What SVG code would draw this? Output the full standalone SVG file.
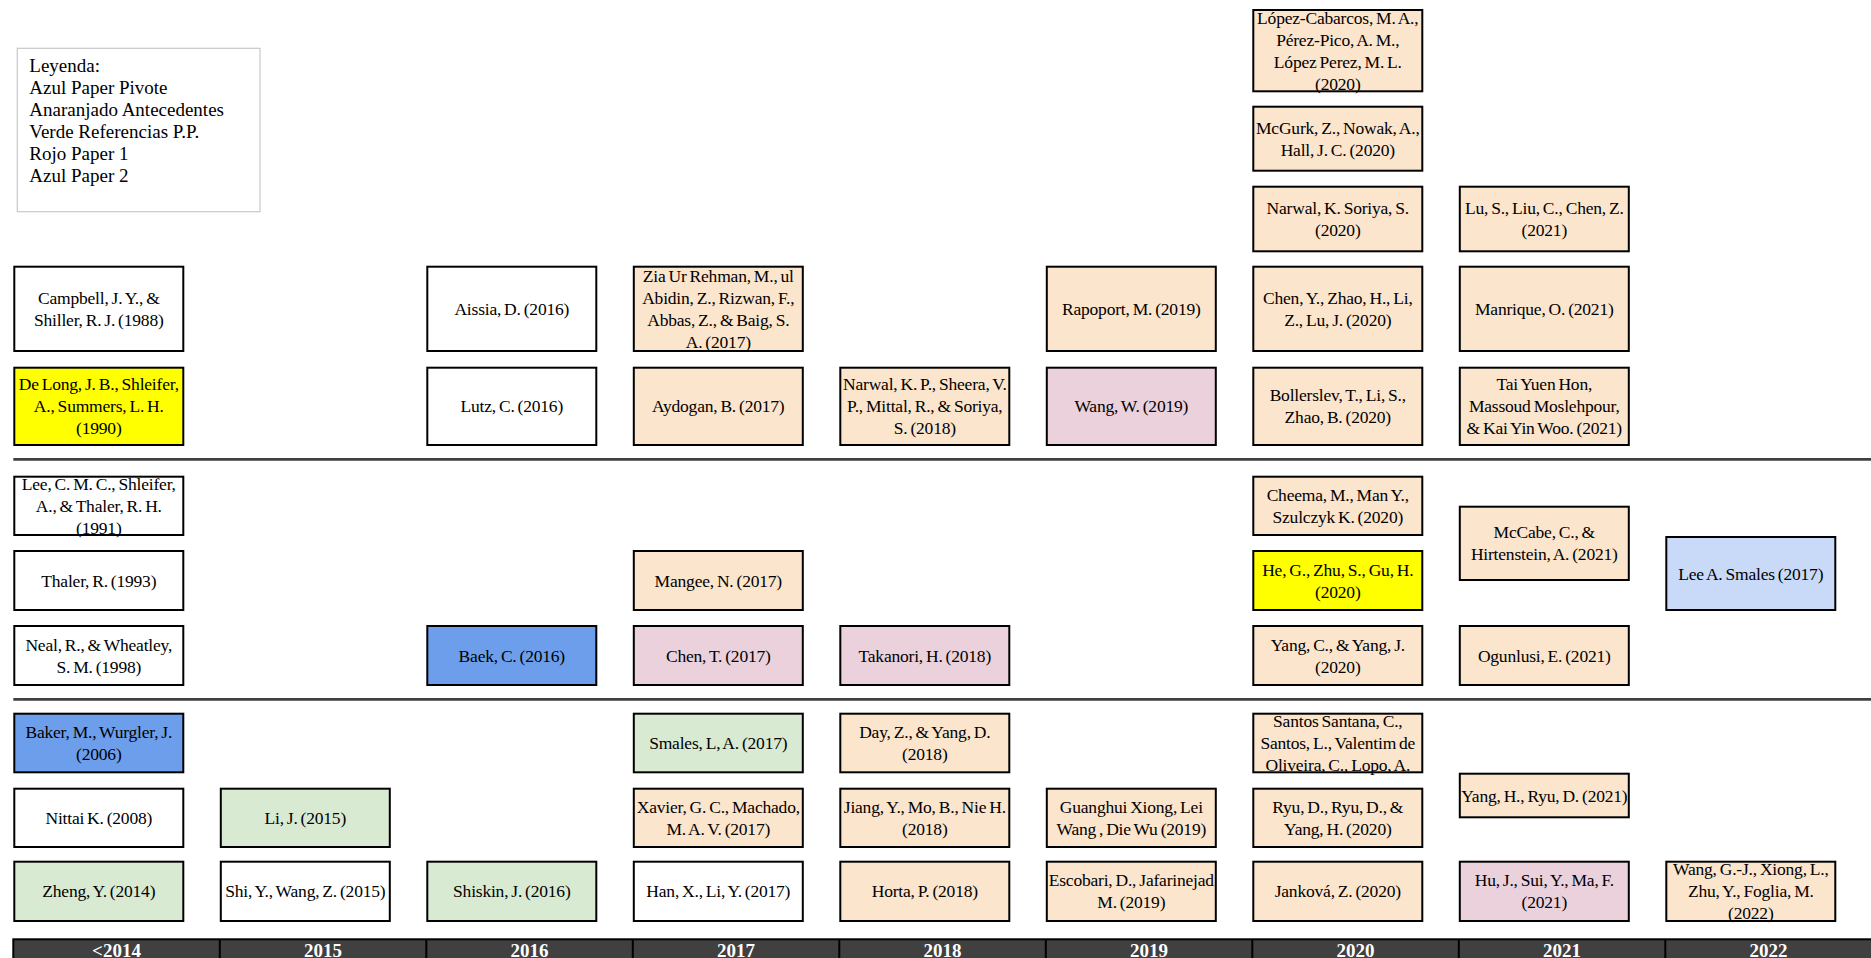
<svg xmlns="http://www.w3.org/2000/svg" width="1871" height="958" viewBox="0 0 1871 958">
<style>
.bx{stroke:#000;stroke-width:2}
.w{fill:#ffffff}.o{fill:#FCE5CD}.p{fill:#EAD1DC}.g{fill:#D9EAD3}.y{fill:#FFFF00}.b{fill:#6D9EEB}.lb{fill:#C9DAF8}
.t{font-family:"Liberation Serif","Times New Roman",serif;font-size:17.5px;text-anchor:middle;fill:#000;word-spacing:-1.2px;letter-spacing:-0.2px}
.lg{font-family:"Liberation Serif","Times New Roman",serif;font-size:19px;fill:#000}
.yr{font-family:"Liberation Serif","Times New Roman",serif;font-size:19px;font-weight:bold;text-anchor:middle;fill:#fff}
.sep{stroke:#404040;stroke-width:2.6}
</style>
<rect width="1871" height="958" fill="#fff"/>
<g id="legend">
<rect x="17.3" y="48.3" width="242.7" height="163.4" fill="#fff" stroke="#c8c8c8" stroke-width="1.2"/>
<text class="lg"><tspan x="29.3" y="71.7">Leyenda:</tspan><tspan x="29.3" y="93.7">Azul Paper Pivote</tspan><tspan x="29.3" y="115.7">Anaranjado Antecedentes</tspan><tspan x="29.3" y="137.7">Verde Referencias P.P.</tspan><tspan x="29.3" y="159.7">Rojo Paper 1</tspan><tspan x="29.3" y="181.7">Azul Paper 2</tspan></text>
</g>
<g id="separators">
<line class="sep" x1="13.3" y1="459.4" x2="1871" y2="459.4"/>
<line class="sep" x1="13.3" y1="699.4" x2="1871" y2="699.4"/>
</g>
<g id="connectors"/>
<!-- <2014 -->
<g id="n-campbell"><rect class="bx w" x="14.3" y="266.7" width="169" height="84.3"/><text class="t"><tspan x="98.8" y="303.9">Campbell, J. Y., &amp;</tspan><tspan x="98.8" y="325.9">Shiller, R. J. (1988)</tspan></text></g>
<g id="n-delong"><rect class="bx y" x="14.3" y="367.7" width="169" height="77.3"/><text class="t"><tspan x="98.8" y="390.4">De Long, J. B., Shleifer,</tspan><tspan x="98.8" y="412.4">A., Summers, L. H.</tspan><tspan x="98.8" y="434.4">(1990)</tspan></text></g>
<g id="n-lee"><rect class="bx w" x="14.3" y="476.7" width="169" height="58.3"/><text class="t"><tspan x="98.8" y="489.9">Lee, C. M. C., Shleifer,</tspan><tspan x="98.8" y="511.9">A., &amp; Thaler, R. H.</tspan><tspan x="98.8" y="533.9">(1991)</tspan></text></g>
<g id="n-thaler"><rect class="bx w" x="14.3" y="551" width="169" height="59"/><text class="t"><tspan x="98.8" y="586.5">Thaler, R. (1993)</tspan></text></g>
<g id="n-neal"><rect class="bx w" x="14.3" y="626" width="169" height="59"/><text class="t"><tspan x="98.8" y="650.5">Neal, R., &amp; Wheatley,</tspan><tspan x="98.8" y="672.5">S. M. (1998)</tspan></text></g>
<g id="n-baker"><rect class="bx b" x="14.3" y="713.7" width="169" height="58.6"/><text class="t"><tspan x="98.8" y="738">Baker, M., Wurgler, J.</tspan><tspan x="98.8" y="760">(2006)</tspan></text></g>
<g id="n-nittai"><rect class="bx w" x="14.3" y="788.7" width="169" height="58.3"/><text class="t"><tspan x="98.8" y="823.9">Nittai K. (2008)</tspan></text></g>
<g id="n-zheng"><rect class="bx g" x="14.3" y="861.7" width="169" height="59.3"/><text class="t"><tspan x="98.8" y="897.4">Zheng, Y. (2014)</tspan></text></g>
<!-- 2015 -->
<g id="n-lij"><rect class="bx g" x="220.8" y="788.7" width="169" height="58.3"/><text class="t"><tspan x="305.3" y="823.9">Li, J. (2015)</tspan></text></g>
<g id="n-shi"><rect class="bx w" x="220.8" y="861.7" width="169" height="59.3"/><text class="t"><tspan x="305.3" y="897.4">Shi, Y., Wang, Z. (2015)</tspan></text></g>
<!-- 2016 -->
<g id="n-aissia"><rect class="bx w" x="427.3" y="266.7" width="169" height="84.3"/><text class="t"><tspan x="511.8" y="314.9">Aissia, D. (2016)</tspan></text></g>
<g id="n-lutz"><rect class="bx w" x="427.3" y="367.7" width="169" height="77.3"/><text class="t"><tspan x="511.8" y="412.4">Lutz, C. (2016)</tspan></text></g>
<g id="n-baek"><rect class="bx b" x="427.3" y="626" width="169" height="59"/><text class="t"><tspan x="511.8" y="661.5">Baek, C. (2016)</tspan></text></g>
<g id="n-shiskin"><rect class="bx g" x="427.3" y="861.7" width="169" height="59.3"/><text class="t"><tspan x="511.8" y="897.4">Shiskin, J. (2016)</tspan></text></g>
<!-- 2017 -->
<g id="n-zia"><rect class="bx o" x="633.8" y="266.7" width="169" height="84.3"/><text class="t"><tspan x="718.3" y="281.9">Zia Ur Rehman, M., ul</tspan><tspan x="718.3" y="303.9">Abidin, Z., Rizwan, F.,</tspan><tspan x="718.3" y="325.9">Abbas, Z., &amp; Baig, S.</tspan><tspan x="718.3" y="347.9">A. (2017)</tspan></text></g>
<g id="n-aydogan"><rect class="bx o" x="633.8" y="367.7" width="169" height="77.3"/><text class="t"><tspan x="718.3" y="412.4">Aydogan, B. (2017)</tspan></text></g>
<g id="n-mangee"><rect class="bx o" x="633.8" y="551" width="169" height="59"/><text class="t"><tspan x="718.3" y="586.5">Mangee, N. (2017)</tspan></text></g>
<g id="n-chent"><rect class="bx p" x="633.8" y="626" width="169" height="59"/><text class="t"><tspan x="718.3" y="661.5">Chen, T. (2017)</tspan></text></g>
<g id="n-smales"><rect class="bx g" x="633.8" y="713.7" width="169" height="58.6"/><text class="t"><tspan x="718.3" y="749">Smales, L, A. (2017)</tspan></text></g>
<g id="n-xavier"><rect class="bx o" x="633.8" y="788.7" width="169" height="58.3"/><text class="t"><tspan x="718.3" y="812.9">Xavier, G. C., Machado,</tspan><tspan x="718.3" y="834.9">M. A. V. (2017)</tspan></text></g>
<g id="n-han"><rect class="bx w" x="633.8" y="861.7" width="169" height="59.3"/><text class="t"><tspan x="718.3" y="897.4">Han, X., Li, Y. (2017)</tspan></text></g>
<!-- 2018 -->
<g id="n-narwal2018"><rect class="bx o" x="840.3" y="367.7" width="169" height="77.3"/><text class="t"><tspan x="924.8" y="390.4">Narwal, K. P., Sheera, V.</tspan><tspan x="924.8" y="412.4">P., Mittal, R., &amp; Soriya,</tspan><tspan x="924.8" y="434.4">S. (2018)</tspan></text></g>
<g id="n-takanori"><rect class="bx p" x="840.3" y="626" width="169" height="59"/><text class="t"><tspan x="924.8" y="661.5">Takanori, H. (2018)</tspan></text></g>
<g id="n-day"><rect class="bx o" x="840.3" y="713.7" width="169" height="58.6"/><text class="t"><tspan x="924.8" y="738">Day, Z., &amp; Yang, D.</tspan><tspan x="924.8" y="760">(2018)</tspan></text></g>
<g id="n-jiang"><rect class="bx o" x="840.3" y="788.7" width="169" height="58.3"/><text class="t"><tspan x="924.8" y="812.9">Jiang, Y., Mo, B., Nie H.</tspan><tspan x="924.8" y="834.9">(2018)</tspan></text></g>
<g id="n-horta"><rect class="bx o" x="840.3" y="861.7" width="169" height="59.3"/><text class="t"><tspan x="924.8" y="897.4">Horta, P. (2018)</tspan></text></g>
<!-- 2019 -->
<g id="n-rapoport"><rect class="bx o" x="1046.8" y="266.7" width="169" height="84.3"/><text class="t"><tspan x="1131.3" y="314.9">Rapoport, M. (2019)</tspan></text></g>
<g id="n-wangw"><rect class="bx p" x="1046.8" y="367.7" width="169" height="77.3"/><text class="t"><tspan x="1131.3" y="412.4">Wang, W. (2019)</tspan></text></g>
<g id="n-guanghui"><rect class="bx o" x="1046.8" y="788.7" width="169" height="58.3"/><text class="t"><tspan x="1131.3" y="812.9">Guanghui Xiong, Lei</tspan><tspan x="1131.3" y="834.9">Wang , Die Wu (2019)</tspan></text></g>
<g id="n-escobari"><rect class="bx o" x="1046.8" y="861.7" width="169" height="59.3"/><text class="t"><tspan x="1131.3" y="886.4">Escobari, D., Jafarinejad</tspan><tspan x="1131.3" y="908.4">M. (2019)</tspan></text></g>
<!-- 2020 -->
<g id="n-lopez"><rect class="bx o" x="1253.3" y="10" width="169" height="81.3"/><text class="t"><tspan x="1337.8" y="23.7">López-Cabarcos, M. A.,</tspan><tspan x="1337.8" y="45.7">Pérez-Pico, A. M.,</tspan><tspan x="1337.8" y="67.7">López Perez, M. L.</tspan><tspan x="1337.8" y="89.7">(2020)</tspan></text></g>
<g id="n-mcgurk"><rect class="bx o" x="1253.3" y="106.7" width="169" height="64"/><text class="t"><tspan x="1337.8" y="133.7">McGurk, Z., Nowak, A.,</tspan><tspan x="1337.8" y="155.7">Hall, J. C. (2020)</tspan></text></g>
<g id="n-narwal2020"><rect class="bx o" x="1253.3" y="186.7" width="169" height="64.6"/><text class="t"><tspan x="1337.8" y="214">Narwal, K. Soriya, S.</tspan><tspan x="1337.8" y="236">(2020)</tspan></text></g>
<g id="n-cheny"><rect class="bx o" x="1253.3" y="266.7" width="169" height="84.3"/><text class="t"><tspan x="1337.8" y="303.9">Chen, Y., Zhao, H., Li,</tspan><tspan x="1337.8" y="325.9">Z., Lu, J. (2020)</tspan></text></g>
<g id="n-bollerslev"><rect class="bx o" x="1253.3" y="367.7" width="169" height="77.3"/><text class="t"><tspan x="1337.8" y="401.4">Bollerslev, T., Li, S.,</tspan><tspan x="1337.8" y="423.4">Zhao, B. (2020)</tspan></text></g>
<g id="n-cheema"><rect class="bx o" x="1253.3" y="476.7" width="169" height="58.3"/><text class="t"><tspan x="1337.8" y="500.9">Cheema, M., Man Y.,</tspan><tspan x="1337.8" y="522.9">Szulczyk K. (2020)</tspan></text></g>
<g id="n-he"><rect class="bx y" x="1253.3" y="551" width="169" height="59"/><text class="t"><tspan x="1337.8" y="575.5">He, G., Zhu, S., Gu, H.</tspan><tspan x="1337.8" y="597.5">(2020)</tspan></text></g>
<g id="n-yangc"><rect class="bx o" x="1253.3" y="626" width="169" height="59"/><text class="t"><tspan x="1337.8" y="650.5">Yang, C., &amp; Yang, J.</tspan><tspan x="1337.8" y="672.5">(2020)</tspan></text></g>
<g id="n-santos"><rect class="bx o" x="1253.3" y="713.7" width="169" height="58.6"/><text class="t"><tspan x="1337.8" y="727">Santos Santana, C.,</tspan><tspan x="1337.8" y="749">Santos, L., Valentim de</tspan><tspan x="1337.8" y="771">Oliveira, C., Lopo, A.</tspan></text></g>
<g id="n-ryu"><rect class="bx o" x="1253.3" y="788.7" width="169" height="58.3"/><text class="t"><tspan x="1337.8" y="812.9">Ryu, D., Ryu, D., &amp;</tspan><tspan x="1337.8" y="834.9">Yang, H. (2020)</tspan></text></g>
<g id="n-jankova"><rect class="bx o" x="1253.3" y="861.7" width="169" height="59.3"/><text class="t"><tspan x="1337.8" y="897.4">Janková, Z. (2020)</tspan></text></g>
<!-- 2021 -->
<g id="n-lus"><rect class="bx o" x="1459.8" y="186.7" width="169" height="64.6"/><text class="t"><tspan x="1544.3" y="214">Lu, S., Liu, C., Chen, Z.</tspan><tspan x="1544.3" y="236">(2021)</tspan></text></g>
<g id="n-manrique"><rect class="bx o" x="1459.8" y="266.7" width="169" height="84.3"/><text class="t"><tspan x="1544.3" y="314.9">Manrique, O. (2021)</tspan></text></g>
<g id="n-tai"><rect class="bx o" x="1459.8" y="367.7" width="169" height="77.3"/><text class="t"><tspan x="1544.3" y="390.4">Tai Yuen Hon,</tspan><tspan x="1544.3" y="412.4">Massoud Moslehpour,</tspan><tspan x="1544.3" y="434.4">&amp; Kai Yin Woo. (2021)</tspan></text></g>
<g id="n-mccabe"><rect class="bx o" x="1459.8" y="506.7" width="169" height="73.3"/><text class="t"><tspan x="1544.3" y="538.4">McCabe, C., &amp;</tspan><tspan x="1544.3" y="560.4">Hirtenstein, A. (2021)</tspan></text></g>
<g id="n-ogunlusi"><rect class="bx o" x="1459.8" y="626" width="169" height="59"/><text class="t"><tspan x="1544.3" y="661.5">Ogunlusi, E. (2021)</tspan></text></g>
<g id="n-yangh"><rect class="bx o" x="1459.8" y="773.7" width="169" height="43.6"/><text class="t"><tspan x="1544.3" y="801.5">Yang, H., Ryu, D. (2021)</tspan></text></g>
<g id="n-hu"><rect class="bx p" x="1459.8" y="861.7" width="169" height="59.3"/><text class="t"><tspan x="1544.3" y="886.4">Hu, J., Sui, Y., Ma, F.</tspan><tspan x="1544.3" y="908.4">(2021)</tspan></text></g>
<!-- 2022 -->
<g id="n-leesmales"><rect class="bx lb" x="1666.3" y="537" width="169" height="73"/><text class="t"><tspan x="1750.8" y="579.5">Lee A. Smales (2017)</tspan></text></g>
<g id="n-wanggj"><rect class="bx o" x="1666.3" y="861.7" width="169" height="59.3"/><text class="t"><tspan x="1750.8" y="875.4">Wang, G.-J., Xiong, L.,</tspan><tspan x="1750.8" y="897.4">Zhu, Y., Foglia, M.</tspan><tspan x="1750.8" y="919.4">(2022)</tspan></text></g>
<g id="yearbar">
<rect x="13.3" y="939.3" width="1870" height="30" fill="#404040" stroke="#000" stroke-width="2"/>
<g stroke="#000" stroke-width="2">
<line x1="219.8" y1="939" x2="219.8" y2="958"/><line x1="426.3" y1="939" x2="426.3" y2="958"/><line x1="632.8" y1="939" x2="632.8" y2="958"/><line x1="839.3" y1="939" x2="839.3" y2="958"/><line x1="1045.8" y1="939" x2="1045.8" y2="958"/><line x1="1252.3" y1="939" x2="1252.3" y2="958"/><line x1="1458.8" y1="939" x2="1458.8" y2="958"/><line x1="1665.3" y1="939" x2="1665.3" y2="958"/>
</g>
<text class="yr" x="116.5" y="957">&lt;2014</text>
<text class="yr" x="323" y="957">2015</text>
<text class="yr" x="529.5" y="957">2016</text>
<text class="yr" x="736" y="957">2017</text>
<text class="yr" x="942.5" y="957">2018</text>
<text class="yr" x="1149" y="957">2019</text>
<text class="yr" x="1355.5" y="957">2020</text>
<text class="yr" x="1562" y="957">2021</text>
<text class="yr" x="1768.5" y="957">2022</text>
</g>
</svg>
